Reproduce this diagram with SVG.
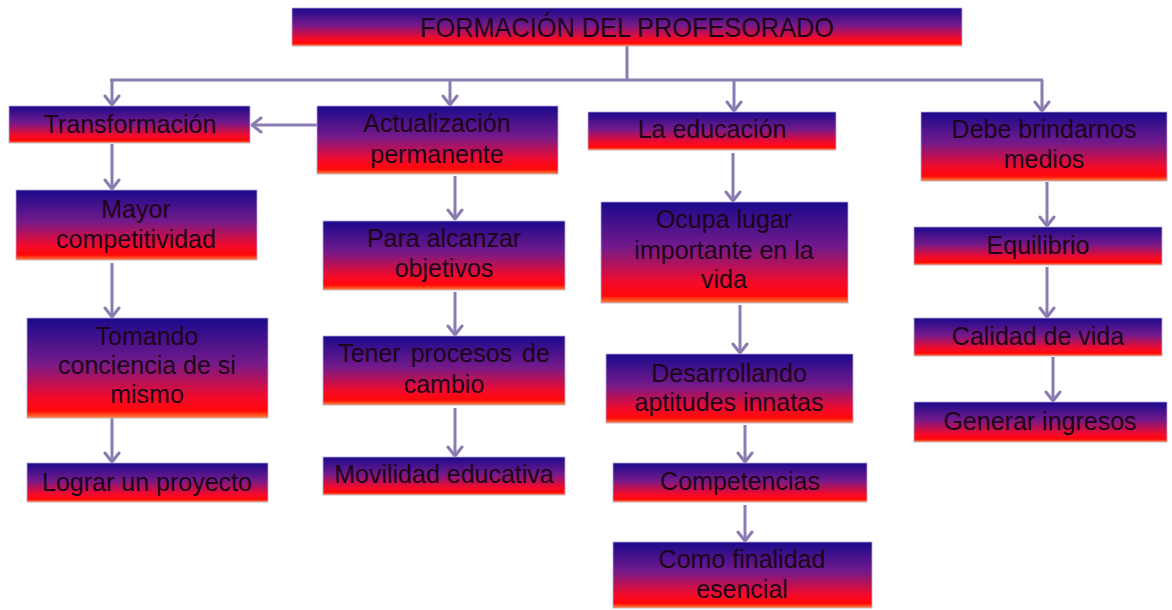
<svg xmlns="http://www.w3.org/2000/svg" width="1172" height="610" viewBox="0 0 1172 610">
<defs>
<linearGradient id="g" x1="0" y1="0" x2="0" y2="1">
<stop offset="0" stop-color="#1a0a8c"/>
<stop offset="0.45" stop-color="#741a8a"/>
<stop offset="0.8" stop-color="#f40a2a"/>
<stop offset="0.93" stop-color="#ff0808"/>
<stop offset="1" stop-color="#ff8a3a"/>
</linearGradient>
<marker id="ah" markerUnits="userSpaceOnUse" markerWidth="20" markerHeight="20" refX="11" refY="8" orient="auto" viewBox="0 0 20 16">
<path d="M2,1 L11,8 L2,15" fill="none" stroke="#8a7cb0" stroke-width="3" stroke-linecap="round" stroke-linejoin="round"/>
</marker>
<style>
.box{fill:url(#g);stroke:#b8a8d8;stroke-width:0.8}
.t{font-family:"Liberation Sans",Arial,sans-serif;font-size:25px;fill:#1e0418;text-anchor:middle}
.c{fill:none;stroke:#8a7cb0;stroke-width:3}
.a{marker-end:url(#ah)}
</style>
</defs>
<g id="connectors">
<path class="c" d="M627,46 V80 M110,80 H1043"/>
<path class="c a" d="M112,80 V105"/>
<path class="c a" d="M450,80 V105"/>
<path class="c a" d="M734,80 V111"/>
<path class="c a" d="M1042,80 V111"/>
<path class="c a" d="M318,125 H252"/>
<path class="c a" d="M112,144 V189"/>
<path class="c a" d="M112,263 V317"/>
<path class="c a" d="M112,418 V462"/>
<path class="c a" d="M455,176 V219"/>
<path class="c a" d="M455,292 V335"/>
<path class="c a" d="M455,408 V456"/>
<path class="c a" d="M733,153 V201"/>
<path class="c a" d="M740,305 V353"/>
<path class="c a" d="M745,425 V462"/>
<path class="c a" d="M745,505 V541"/>
<path class="c a" d="M1047,182 V226"/>
<path class="c a" d="M1047,267 V317"/>
<path class="c a" d="M1053,357 V401"/>
</g>
<g id="n0"><rect class="box" x="292" y="8" width="670" height="38"/><text class="t" x="627" y="37" textLength="414" lengthAdjust="spacingAndGlyphs" style="font-size:28px">FORMACIÓN DEL PROFESORADO</text></g>
<g id="n1"><rect class="box" x="9" y="106" width="241" height="37"/><text class="t" x="130" y="133">Transformación</text></g>
<g id="n2"><rect class="box" x="317" y="106" width="241" height="68"/><text class="t" x="437" y="132">Actualización</text><text class="t" x="437" y="163">permanente</text></g>
<g id="n3"><rect class="box" x="588" y="112" width="248" height="38"/><text class="t" x="712" y="138">La educación</text></g>
<g id="n4"><rect class="box" x="921" y="112" width="246" height="69"/><text class="t" x="1044" y="138">Debe brindarnos</text><text class="t" x="1044" y="168">medios</text></g>
<g id="n5"><rect class="box" x="16" y="190" width="241" height="70"/><text class="t" x="136" y="218">Mayor</text><text class="t" x="136" y="248">competitividad</text></g>
<g id="n6"><rect class="box" x="27" y="318" width="241" height="100"/><text class="t" x="147" y="345">Tomando</text><text class="t" x="147" y="374">conciencia de si</text><text class="t" x="147" y="403">mismo</text></g>
<g id="n7"><rect class="box" x="27" y="463" width="241" height="39"/><text class="t" x="147" y="491">Lograr un proyecto</text></g>
<g id="n8"><rect class="box" x="323" y="221" width="242" height="69"/><text class="t" x="444" y="247">Para alcanzar</text><text class="t" x="444" y="277">objetivos</text></g>
<g id="n9"><rect class="box" x="323" y="336" width="242" height="69"/><text class="t" x="444" y="362" word-spacing="3">Tener procesos de</text><text class="t" x="444" y="393">cambio</text></g>
<g id="n10"><rect class="box" x="323" y="457" width="242" height="38"/><text class="t" x="444" y="483">Movilidad educativa</text></g>
<g id="n11"><rect class="box" x="601" y="202" width="247" height="101"/><text class="t" x="724" y="228">Ocupa lugar</text><text class="t" x="724" y="259">importante en la</text><text class="t" x="724" y="288">vida</text></g>
<g id="n12"><rect class="box" x="606" y="354" width="247" height="69"/><text class="t" x="729" y="382">Desarrollando</text><text class="t" x="729" y="411">aptitudes innatas</text></g>
<g id="n13"><rect class="box" x="613" y="463" width="254" height="39"/><text class="t" x="740" y="490">Competencias</text></g>
<g id="n14"><rect class="box" x="613" y="542" width="259" height="66"/><text class="t" x="742" y="568">Como finalidad</text><text class="t" x="742" y="598">esencial</text></g>
<g id="n15"><rect class="box" x="914" y="227" width="248" height="38"/><text class="t" x="1038" y="254">Equilibrio</text></g>
<g id="n16"><rect class="box" x="914" y="318" width="248" height="38"/><text class="t" x="1038" y="345">Calidad de vida</text></g>
<g id="n17"><rect class="box" x="914" y="402" width="253" height="40"/><text class="t" x="1040" y="430">Generar ingresos</text></g>
</svg>
